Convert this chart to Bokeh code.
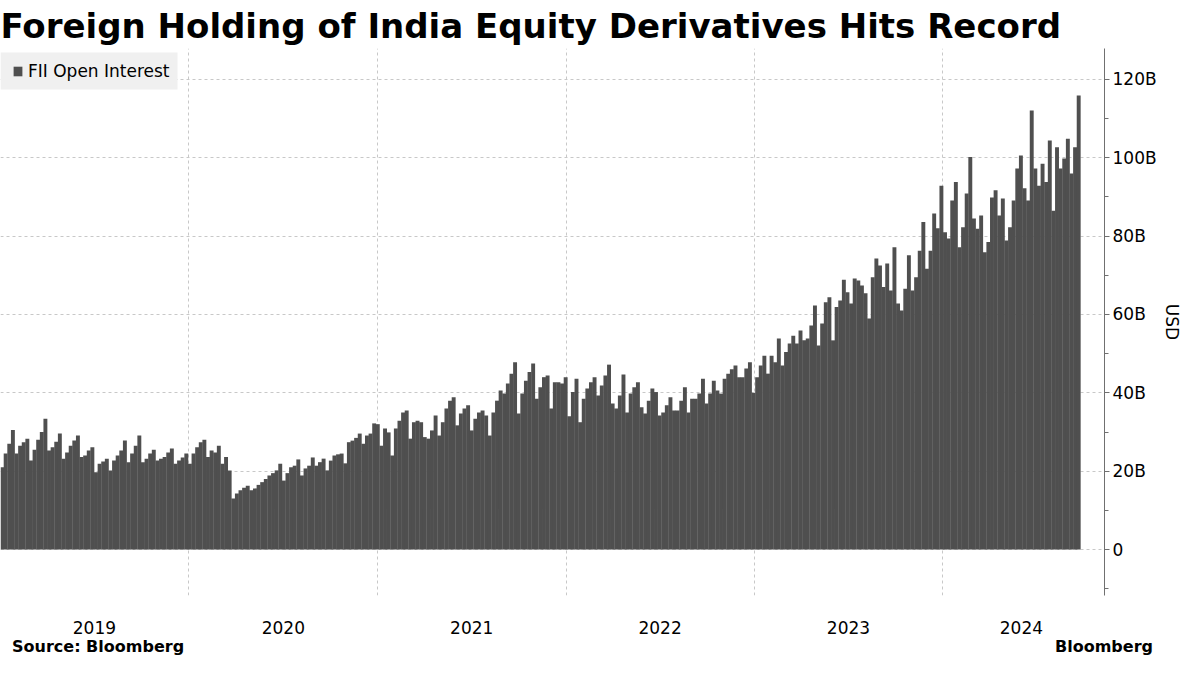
import pandas as pd
from datetime import datetime
from bokeh.plotting import figure
from bokeh.models import (Range1d, FixedTicker, CustomJSTickFormatter, BoxAnnotation,
                          Legend, LegendItem, ColumnDataSource, LinearAxis)
from bokeh.embed import file_html
from bokeh.resources import INLINE

# ---------------- data (weekly readings, USD billions) ----------------
series_name = "FII Open Interest"
oi_2019 = [21.0, 24.5, 27.0, 30.5,
           24.5, 26.5, 27.4, 28.3,
           22.7, 25.5, 28.0, 30.0, 33.4,
           25.3, 26.1, 27.5, 29.6,
           23.2, 24.8, 26.5, 27.8, 29.1,
           23.6, 24.0, 25.3, 26.1,
           19.7, 21.9, 22.5, 23.2,
           20.2, 22.7, 24.0, 25.3, 27.8,
           22.3, 24.5, 26.5, 29.1,
           22.3, 23.2, 24.5, 25.5,
           22.7, 23.2, 23.6, 24.8, 25.8,
           21.9, 22.7, 23.5, 24.5]
oi_2020 = [21.9, 24.5, 26.1, 27.4, 28.0,
           23.6, 25.3, 24.8, 26.5,
           21.9, 23.6, 20.2, 13.0,
           14.3, 15.1, 15.8, 16.3,
           15.1, 15.6, 16.5, 17.2, 18.0,
           18.9, 19.5, 20.2, 21.9,
           17.6, 19.5, 21.0, 21.4, 23.0,
           18.9, 20.7, 21.4, 23.5,
           21.4, 22.3, 23.2, 20.2,
           22.7, 24.0, 24.3, 24.5, 22.0,
           27.4, 27.8, 28.5, 29.6,
           27.0, 29.1, 29.6, 32.2]
oi_2021 = [32.0, 26.5, 30.9, 29.9, 24.0,
           30.9, 32.9, 35.0, 35.5,
           28.3, 32.5, 32.9, 32.5,
           28.7, 28.3, 30.4, 34.2, 29.1,
           32.5, 36.0, 38.0, 38.9,
           31.7, 34.7, 36.0, 36.8,
           30.4, 33.4, 35.0, 35.5, 34.2,
           29.1, 35.0, 38.0, 40.6,
           39.8, 42.4, 44.9, 47.8,
           34.7, 39.8, 43.1, 45.3, 47.5,
           38.5, 41.4, 44.0, 44.4,
           36.0, 42.7, 42.7, 42.4, 44.0]
oi_2022 = [34.0, 40.2, 43.6, 32.5,
           38.5, 41.1, 42.7, 44.0,
           39.3, 41.9, 44.4, 47.2,
           37.3, 36.0, 39.3, 44.7, 35.0,
           39.8, 41.4, 42.7, 36.3,
           34.7, 38.0, 41.1, 40.2,
           34.2, 35.0, 36.8, 38.9, 35.5,
           35.5, 38.0, 41.4, 35.0,
           38.5, 38.5, 39.8, 43.6, 37.3,
           39.8, 43.1, 40.6, 39.8,
           43.6, 44.9, 46.0, 47.0,
           44.0, 44.0, 46.2, 47.8, 40.0]
oi_2023 = [44.0, 47.0, 49.5, 44.9,
           49.5, 47.8, 53.9, 47.0,
           50.4, 52.6, 54.6, 52.6, 55.9,
           53.4, 53.9, 57.2, 62.3,
           52.1, 57.7, 63.1, 64.4,
           53.4, 61.9, 63.6, 68.9, 65.7,
           62.8, 69.2, 68.7, 67.4,
           65.4, 59.0, 69.5, 74.3,
           72.5, 67.0, 73.0, 66.1, 77.2,
           62.8, 61.0, 66.6, 75.1,
           66.1, 69.5, 76.3, 83.6,
           71.7, 76.3, 85.8, 82.0, 92.9]
oi_2024 = [81.0, 79.4, 89.1, 93.8,
           77.2, 82.3, 90.9, 100.2,
           84.5, 81.9, 85.3, 75.9, 78.5,
           89.9, 91.7, 85.3, 89.6,
           78.9, 82.3, 89.1, 97.3, 100.6,
           92.2, 89.1, 112.1, 97.3,
           92.9, 98.5, 93.8, 104.4,
           86.5, 102.7, 97.3, 99.8, 104.9,
           96.0, 102.7, 115.9]
yearly = {2019: oi_2019, 2020: oi_2020, 2021: oi_2021,
          2022: oi_2022, 2023: oi_2023, 2024: oi_2024}

y_ticks = [0, 20, 40, 60, 80, 100, 120]
y_minor = [-10, 10, 30, 50, 70, 90, 110]
year_label_dates = ["2019-07-02", "2020-07-02", "2021-07-02",
                    "2022-07-02", "2023-07-02", "2024-06-01"]
year_bounds = ["2019-01-01", "2020-01-01", "2021-01-01",
               "2022-01-01", "2023-01-01", "2024-01-01"]
footer_dates = ["2019-07-09", "2024-11-08"]
footer_texts = ["Source: Bloomberg", "Bloomberg"]

dates, vals = [], []
for yr, v in yearly.items():
    d = pd.date_range(f"{yr}-01-01", periods=len(v), freq="W-FRI")
    dates.extend(list(d))
    vals.extend(v)
src = ColumnDataSource(dict(date=dates, oi=vals))

def ms(s):
    return pd.Timestamp(s).value / 1e6

# ---------------- figure ----------------
W, H = 1184, 659
TOP, BOTTOM, RIGHT = 48, 64, 76
FRAME_H = H - TOP - BOTTOM
p = figure(width=W, height=H, x_axis_type="datetime", y_axis_location="right",
           output_backend="svg", toolbar_location=None,
           x_range=Range1d(datetime(2019, 1, 1), datetime(2024, 11, 9)),
           y_range=Range1d(-11.74, 127.91),
           min_border_left=0, min_border_right=RIGHT,
           min_border_top=TOP, min_border_bottom=BOTTOM)
p.outline_line_color = None
p.background_fill_color = "white"

# title
p.title.text = "Foreign Holding of India Equity Derivatives Hits Record"
p.title.text_font = "DejaVu Sans"
p.title.text_font_size = "34px"
p.title.text_font_style = "bold"
p.title.text_color = "#000000"
p.title.align = "left"
p.title.offset = 0
p.title.standoff = 5

bar_w = 7.6 * 24 * 3600 * 1000
r = p.vbar(x="date", top="oi", bottom=0, width=bar_w, source=src,
           fill_color="#4f4f4f", line_color=None)

# grids
p.ygrid.ticker = FixedTicker(ticks=y_ticks)
p.ygrid.grid_line_color = "#c8c8c8"
p.ygrid.grid_line_dash = "3 3"
p.xgrid.ticker = FixedTicker(ticks=[ms(s) for s in year_bounds])
p.xgrid.grid_line_color = "#c8c8c8"
p.xgrid.grid_line_dash = "3 3"

# y axis (right)
ya = p.yaxis[0]
ya.ticker = FixedTicker(ticks=y_ticks, minor_ticks=y_minor)
ya.formatter = CustomJSTickFormatter(code="return tick === 0 ? '0' : tick + 'B';")
ya.axis_line_color = "#707070"
ya.major_tick_line_color = "#707070"
ya.minor_tick_line_color = "#707070"
ya.major_tick_out = 5
ya.major_tick_in = 0
ya.minor_tick_out = 4
ya.minor_tick_in = 0
ya.major_label_standoff = 3
ya.major_label_text_font = "DejaVu Sans"
ya.major_label_text_font_size = "17px"
ya.major_label_text_color = "#000000"
ya.axis_label = "USD"
ya.axis_label_text_font = "DejaVu Sans"
ya.axis_label_text_font_size = "17px"
ya.axis_label_text_font_style = "normal"
ya.axis_label_text_color = "#000000"
ya.axis_label_standoff = 2

# x axis (year labels)
xa = p.xaxis[0]
xa.ticker = FixedTicker(ticks=[ms(s) for s in year_label_dates], minor_ticks=[])
xa.formatter = CustomJSTickFormatter(code="return String(new Date(tick).getUTCFullYear());")
xa.axis_line_color = None
xa.major_tick_line_color = None
xa.minor_tick_line_color = None
xa.major_tick_out = 0
xa.major_tick_in = 0
xa.major_label_standoff = 25
xa.major_label_text_font = "DejaVu Sans"
xa.major_label_text_font_size = "17px"
xa.major_label_text_color = "#000000"

# footer row (source + brand) as a second, line-less axis
split = (ms(footer_dates[0]) + ms(footer_dates[1])) / 2
fa = LinearAxis(ticker=FixedTicker(ticks=[ms(s) for s in footer_dates], minor_ticks=[]),
                formatter=CustomJSTickFormatter(
                    args=dict(t0=footer_texts[0], t1=footer_texts[1], split=split),
                    code="return tick < split ? t0 : t1;"),
                axis_line_color=None, major_tick_line_color=None,
                minor_tick_line_color=None, major_tick_out=0, major_tick_in=0,
                major_label_standoff=0, major_label_text_font="DejaVu Sans",
                major_label_text_font_size="16px", major_label_text_font_style="bold",
                major_label_text_color="#000000")
p.add_layout(fa, "below")

# legend box + legend
p.add_layout(BoxAnnotation(left=0, right=177, top=FRAME_H - 4, bottom=FRAME_H - 41,
                           left_units="screen", right_units="screen",
                           top_units="screen", bottom_units="screen",
                           fill_color="#f0f0f0", fill_alpha=1.0, line_color=None))
legend = Legend(items=[LegendItem(label=series_name, renderers=[r])],
                location=(12, FRAME_H - 33), background_fill_alpha=0.0,
                border_line_color=None,
                label_text_font="DejaVu Sans", label_text_font_size="17px",
                label_text_color="#000000", glyph_width=11, glyph_height=12,
                padding=0, margin=0, label_standoff=5, label_height=20)
p.add_layout(legend)

open("out.html", "w").write(file_html(p, INLINE))
